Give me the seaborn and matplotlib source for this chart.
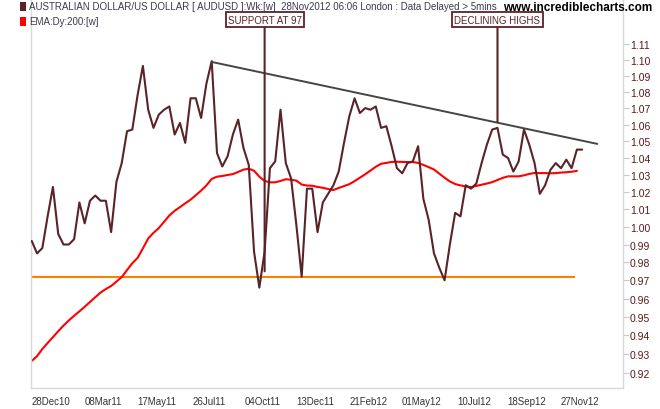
import matplotlib
matplotlib.use('Agg')
import pandas as pd
import numpy as np
import seaborn as sns
import matplotlib.pyplot as plt
import matplotlib.dates as mdates
from matplotlib.ticker import FixedLocator, FormatStrFormatter, NullLocator
from matplotlib.patches import Rectangle

# weekly AUDUSD close
audusd = [0.992, 0.985, 0.988, 1.006, 1.023, 0.996, 0.990, 0.990, 0.993, 1.014,
          1.002, 1.015, 1.018, 1.015, 1.015, 0.997, 1.026, 1.037, 1.056, 1.057,
          1.078, 1.096, 1.069, 1.058, 1.066, 1.069, 1.071, 1.054, 1.061, 1.049,
          1.076, 1.076, 1.064, 1.085, 1.099, 1.043, 1.035, 1.041, 1.054, 1.063,
          1.046, 1.036, 0.986, 0.966, 0.986, 1.034, 1.038, 1.069, 1.037, 1.028,
          1.001, 0.972, 1.022, 1.022, 0.997, 1.014, 1.019, 1.024, 1.032, 1.049,
          1.065, 1.076, 1.067, 1.070, 1.069, 1.071, 1.058, 1.059, 1.047, 1.034,
          1.031, 1.037, 1.038, 1.047, 1.016, 1.004, 0.985, 0.977, 0.970, 0.990,
          1.008, 1.006, 1.024, 1.022, 1.025, 1.037, 1.048, 1.057, 1.058, 1.042,
          1.040, 1.032, 1.038, 1.057, 1.048, 1.037, 1.019, 1.024, 1.033, 1.037,
          1.034, 1.039, 1.034, 1.045, 1.045]

# EMA:Dy:200
ema200 = [0.9265, 0.9290, 0.9328, 0.9360, 0.9391, 0.9423, 0.9453, 0.9481, 0.9506, 0.9530,
          0.9555, 0.9581, 0.9607, 0.9633, 0.9652, 0.9669, 0.9693, 0.9718, 0.9757, 0.9795,
          0.9825, 0.9878, 0.9934, 0.9966, 0.9993, 1.0029, 1.0065, 1.0092, 1.0113, 1.0135,
          1.0156, 1.0182, 1.0209, 1.0239, 1.0277, 1.0290, 1.0294, 1.0300, 1.0305, 1.0318,
          1.0331, 1.0337, 1.0325, 1.0290, 1.0265, 1.0257, 1.0257, 1.0265, 1.0275, 1.0272,
          1.0267, 1.0244, 1.0238, 1.0237, 1.0230, 1.0225, 1.0218, 1.0212, 1.0224, 1.0235,
          1.0246, 1.0264, 1.0284, 1.0304, 1.0326, 1.0348, 1.0366, 1.0371, 1.0377, 1.0378,
          1.0377, 1.0376, 1.0376, 1.0371, 1.0359, 1.0346, 1.0332, 1.0308, 1.0284, 1.0262,
          1.0247, 1.0239, 1.0233, 1.0229, 1.0236, 1.0243, 1.0250, 1.0258, 1.0271, 1.0283,
          1.0292, 1.0292, 1.0292, 1.0298, 1.0306, 1.0312, 1.0311, 1.0311, 1.0310, 1.0311,
          1.0314, 1.0316, 1.0319, 1.0324]

first_week = '2010-12-03'
x_labels = ['28Dec10', '08Mar11', '17May11', '26Jul11', '04Oct11', '13Dec11',
            '21Feb12', '01May12', '10Jul12', '18Sep12', '27Nov12']
y_ticks = [0.92, 0.93, 0.94, 0.95, 0.96, 0.97, 0.98, 0.99, 1.00, 1.01,
           1.02, 1.03, 1.04, 1.05, 1.06, 1.07, 1.08, 1.09, 1.10, 1.11]

support_level = 0.972
support_end = '2012-11-20'
trend_dates = ['2011-07-29', '2012-12-20']
trend_vals = [1.0985, 1.0484]
notes = [('SUPPORT AT 97', '2011-10-07', 0.975),
         ('DECLINING HIGHS', '2012-08-10', 1.0616)]

header = ('AUSTRALIAN DOLLAR/US DOLLAR [ AUDUSD ]:Wk:[w]  28Nov2012 06:06 London : '
          'Data Delayed > 5mins')

weeks = pd.date_range(first_week, periods=len(audusd), freq='7D')
price_df = pd.DataFrame({'week': weeks, 'close': audusd})
ema_df = pd.DataFrame({'week': weeks[:len(ema200)], 'ema': ema200})

sns.set_style('white')
plt.rcParams['font.family'] = ['Liberation Sans', 'DejaVu Sans']

brown = '#5a2328'
fig = plt.figure(figsize=(6.6, 4.1), dpi=100)
ax = fig.add_axes([31/660, 21/410, 592/660, 389/410])

x_left = pd.Timestamp('2010-12-02')
x_right = pd.Timestamp('2013-01-23')

ax.hlines(support_level, mdates.date2num(x_left), mdates.date2num(pd.Timestamp(support_end)),
          color='#ff8000', lw=1.5, zorder=1)
sns.lineplot(data=ema_df, x='week', y='ema', color='#ff0000', lw=1.5, ax=ax, zorder=2)
sns.lineplot(data=price_df, x='week', y='close', color=brown, lw=1.5, ax=ax, zorder=3)
ax.plot(pd.to_datetime(trend_dates), trend_vals, color='#454545', lw=1.4, zorder=4)

ax.set_yscale('log')
ax.set_ylim(0.9123, 1.1386)
ax.set_xlim(x_left, x_right)
ax.yaxis.set_major_locator(FixedLocator(y_ticks))
ax.yaxis.set_major_formatter(FormatStrFormatter('%.2f'))
ax.yaxis.set_minor_locator(NullLocator())
ax.yaxis.tick_right()
ax.set_xticks(pd.to_datetime(x_labels, format='%d%b%y'))
ax.set_xticklabels(x_labels)
ax.set_xlabel('')
ax.set_ylabel('')
ax.tick_params(axis='x', length=4, color='#c8c8c8', labelsize=7, labelcolor='#333333', pad=2)
ax.tick_params(axis='y', length=4, color='#c8c8c8', labelsize=7.5, labelcolor='#5a1a1a', pad=1)
for side in ['left', 'bottom', 'right']:
    ax.spines[side].set_color('#d9d9d9')
    ax.spines[side].set_linewidth(1)
ax.spines['top'].set_visible(False)

for text, day, val in notes:
    xd = mdates.date2num(pd.Timestamp(day))
    ax.annotate(text, xy=(xd, val), xycoords='data', xytext=(xd, 0.947),
                textcoords=('data', 'axes fraction'), ha='center', va='center',
                fontsize=7, color=brown, zorder=6,
                bbox=dict(boxstyle='square,pad=0.22', fc='white', ec=brown, lw=1.3),
                arrowprops=dict(arrowstyle='-', color=brown, lw=1.5, shrinkA=0, shrinkB=0))

# header / legend
fig.text(29/660, 1 - 7/410, header, fontsize=7, color='#3b3b4f', ha='left', va='center')
fig.text(29/660, 1 - 22/410, 'EMA:Dy:200:[w]', fontsize=7, color='#3b3b4f', ha='left', va='center')
fig.add_artist(Rectangle((19.5/660, 1 - 11.5/410), 6/660, 9/410, transform=fig.transFigure,
                         fc=brown, ec='none'))
fig.add_artist(Rectangle((19.5/660, 1 - 26.5/410), 6/660, 9/410, transform=fig.transFigure,
                         fc='#ff0000', ec='none'))
fig.text(652/660, 1 - 8/410, 'www.incrediblecharts.com', fontsize=8.5, fontweight='bold',
         color='black', ha='right', va='center')

fig.savefig('out.png', dpi=100)
